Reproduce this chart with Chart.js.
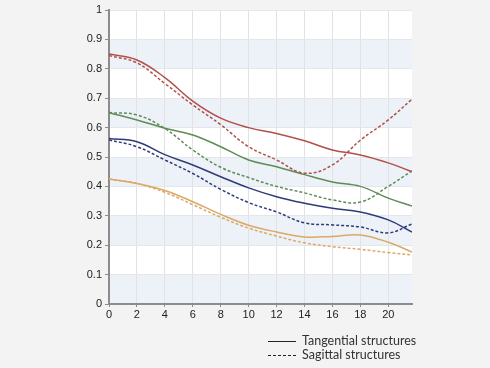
<!DOCTYPE html>
<html>
<head>
<meta charset="utf-8">
<script src="https://cdn.jsdelivr.net/npm/chart.js@4"></script>
<style>
  body { margin: 0; background: #f3f3f3; }
  #wrap { position: relative; width: 490px; height: 368px; }
  .legend { position: absolute; left: 268px; font: 12.5px Lato, sans-serif; color: #333; }
  .legend span.l { display: inline-block; width: 28px; vertical-align: middle; margin-right: 6px; }
</style>
</head>
<body>
<div id="wrap">
  <canvas id="mtfChart" width="490" height="368"></canvas>
  <div class="legend" style="top:333px"><span class="l" style="border-top:1.5px solid #222"></span>Tangential structures</div>
  <div class="legend" style="top:347px"><span class="l" style="border-top:1.5px dashed #222"></span>Sagittal structures</div>
</div>
<script>
const xValues = [0, 2, 4, 6, 8, 10, 12, 14, 16, 18, 20, 21.7];
const xTicks = [0, 2, 4, 6, 8, 10, 12, 14, 16, 18, 20];
const yTicks = [0, 0.1, 0.2, 0.3, 0.4, 0.5, 0.6, 0.7, 0.8, 0.9, 1];

const redTangential   = [0.85, 0.83, 0.77, 0.69, 0.632, 0.60, 0.58, 0.555, 0.524, 0.507, 0.48, 0.45];
const redSagittal     = [0.845, 0.82, 0.75, 0.677, 0.61, 0.535, 0.49, 0.445, 0.473, 0.557, 0.626, 0.697];
const greenTangential = [0.651, 0.626, 0.598, 0.575, 0.535, 0.49, 0.467, 0.44, 0.415, 0.40, 0.36, 0.333];
const greenSagittal   = [0.651, 0.643, 0.597, 0.524, 0.465, 0.43, 0.40, 0.378, 0.354, 0.347, 0.40, 0.453];
const navyTangential  = [0.563, 0.552, 0.508, 0.473, 0.433, 0.395, 0.365, 0.343, 0.326, 0.313, 0.286, 0.245];
const navySagittal    = [0.558, 0.535, 0.49, 0.444, 0.39, 0.345, 0.313, 0.276, 0.269, 0.262, 0.242, 0.272];
const tanTangential   = [0.425, 0.41, 0.386, 0.348, 0.305, 0.268, 0.245, 0.228, 0.23, 0.235, 0.21, 0.177];
const tanSagittal     = [0.425, 0.41, 0.38, 0.338, 0.295, 0.258, 0.231, 0.208, 0.195, 0.186, 0.175, 0.167];

function pts(ys) {
  return ys.map((y, i) => ({ x: xValues[i], y: y }));
}

function series(ys, color, dashed) {
  return {
    data: pts(ys),
    borderColor: color,
    borderWidth: 1.5,
    borderDash: dashed ? [3, 2] : [],
    pointRadius: 0,
    tension: 0.4,
    fill: false,
  };
}

// alternating light blue bands behind the plot
const bands = {
  id: 'bands',
  beforeDraw(chart) {
    const { ctx, chartArea, scales } = chart;
    ctx.save();
    ctx.fillStyle = '#ffffff';
    ctx.fillRect(chartArea.left, chartArea.top, chartArea.right - chartArea.left, chartArea.bottom - chartArea.top);
    ctx.fillStyle = '#edf2f9';
    for (let i = 0; i < 10; i += 2) {
      const yTop = scales.y.getPixelForValue(yTicks[i + 1]);
      const yBot = scales.y.getPixelForValue(yTicks[i]);
      ctx.fillRect(chartArea.left, yTop, chartArea.right - chartArea.left, yBot - yTop);
    }
    ctx.restore();
  }
};

const ctx = document.getElementById('mtfChart').getContext('2d');
new Chart(ctx, {
  type: 'line',
  data: {
    datasets: [
      series(redTangential, '#b05149', false),
      series(redSagittal, '#b05149', true),
      series(greenTangential, '#5f8c56', false),
      series(greenSagittal, '#5f8c56', true),
      series(navyTangential, '#2f3b79', false),
      series(navySagittal, '#2f3b79', true),
      series(tanTangential, '#dba966', false),
      series(tanSagittal, '#dba966', true),
    ],
  },
  options: {
    responsive: false,
    animation: false,
    layout: { padding: { left: 0, right: 78, top: 10, bottom: 44 } },
    plugins: {
      legend: { display: false },
      tooltip: { enabled: false },
    },
    scales: {
      x: {
        type: 'linear',
        min: 0,
        max: 21.7,
        afterFit: (s) => { s.height = 20; },
        afterBuildTicks: (s) => {
          s.ticks = xTicks.map(v => ({ value: v }));
        },
        border: { color: '#8c8c8c', width: 2 },
        grid: { color: '#e2e2e2', tickColor: '#8c8c8c', tickLength: 3 },
        ticks: { color: '#222', font: { family: 'Liberation Sans', size: 11 }, padding: 1, maxRotation: 0 },
      },
      y: {
        min: 0,
        max: 1,
        afterFit: (s) => { s.width = 109; },
        afterBuildTicks: (s) => {
          s.ticks = yTicks.map(v => ({ value: v }));
        },
        border: { color: '#8c8c8c', width: 2 },
        grid: { color: '#e3e6ea', tickColor: '#8c8c8c', tickLength: 4 },
        ticks: {
          color: '#222',
          font: { family: 'Liberation Sans', size: 11 },
          padding: 3,
          callback: (v) => String(v),
        },
      },
    },
  },
  plugins: [bands],
});
</script>
</body>
</html>
